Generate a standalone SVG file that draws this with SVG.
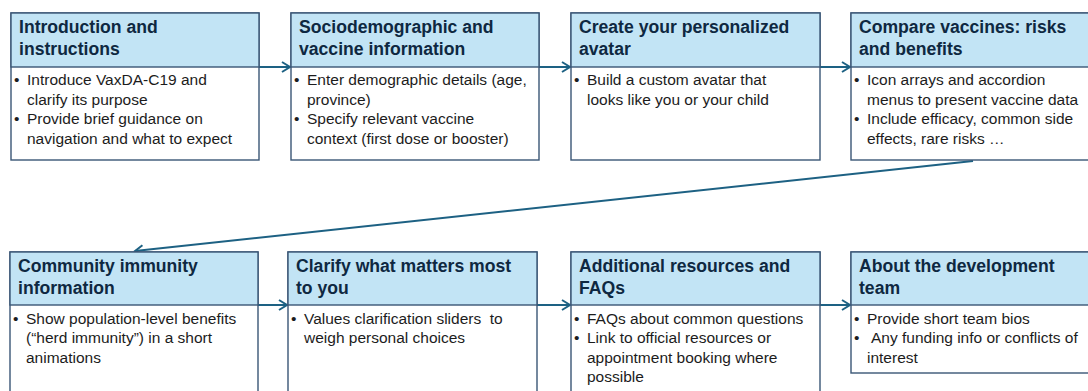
<svg xmlns="http://www.w3.org/2000/svg" width="1088" height="391" viewBox="0 0 1088 391">
  <style>
    .box { fill: #ffffff; stroke: #3a5676; stroke-width: 1.4; }
    .head { fill: #c2e4f5; stroke: #3a5676; stroke-width: 1.4; }
    .title { font-family: "Liberation Sans", Arial, sans-serif; font-weight: bold; font-size: 17.6px; fill: #0e2841; }
    .body { font-family: "Liberation Sans", Arial, sans-serif; font-size: 15.5px; fill: #1c1c1c; white-space: pre; }
    .link { fill: none; stroke: #1d6183; stroke-width: 2; }
  </style>
  <defs>
    <marker id="arrow" markerUnits="userSpaceOnUse" markerWidth="12" markerHeight="14" refX="9" refY="6" orient="auto">
      <path d="M1,1 L9,6 L1,11" fill="none" stroke="#1d6183" stroke-width="2"/>
    </marker>
  </defs>

  <rect width="1088" height="391" fill="#ffffff"/>

  <!-- connectors -->
  <g id="connectors">
    <line class="link" x1="259" y1="67" x2="290" y2="67" marker-end="url(#arrow)"/>
    <line class="link" x1="539" y1="67" x2="570" y2="67" marker-end="url(#arrow)"/>
    <line class="link" x1="820" y1="67" x2="850" y2="67" marker-end="url(#arrow)"/>
    <line class="link" x1="973" y1="161" x2="135" y2="251" marker-end="url(#arrow)"/>
    <line class="link" x1="258" y1="305" x2="287" y2="305" marker-end="url(#arrow)"/>
    <line class="link" x1="537" y1="305" x2="570" y2="305" marker-end="url(#arrow)"/>
    <line class="link" x1="820" y1="305" x2="850" y2="305" marker-end="url(#arrow)"/>
  </g>

  <!-- step 1 -->
  <g id="intro">
    <rect class="box" x="11" y="13" width="248" height="147"/>
    <rect class="head" x="11" y="13" width="248" height="54"/>
    <text class="title" x="19" y="33">Introduction and</text>
    <text class="title" x="19" y="55">instructions</text>
    <text class="body"><tspan x="14" y="85">•</tspan><tspan x="27" y="85">Introduce VaxDA-C19 and</tspan></text>
    <text class="body" x="27" y="104.5">clarify its purpose</text>
    <text class="body"><tspan x="14" y="124">•</tspan><tspan x="27" y="124">Provide brief guidance on</tspan></text>
    <text class="body" x="27" y="143.5">navigation and what to expect</text>
  </g>

  <!-- step 2 -->
  <g id="sociodemographic">
    <rect class="box" x="291" y="13" width="248" height="147"/>
    <rect class="head" x="291" y="13" width="248" height="54"/>
    <text class="title" x="299" y="33">Sociodemographic and</text>
    <text class="title" x="299" y="55">vaccine information</text>
    <text class="body"><tspan x="294" y="85">•</tspan><tspan x="307" y="85">Enter demographic details (age,</tspan></text>
    <text class="body" x="307" y="104.5">province)</text>
    <text class="body"><tspan x="294" y="124">•</tspan><tspan x="307" y="124">Specify relevant vaccine</tspan></text>
    <text class="body" x="307" y="143.5">context (first dose or booster)</text>
  </g>

  <!-- step 3 -->
  <g id="avatar">
    <rect class="box" x="571" y="13" width="249" height="147"/>
    <rect class="head" x="571" y="13" width="249" height="54"/>
    <text class="title" x="579" y="33">Create your personalized</text>
    <text class="title" x="579" y="55">avatar</text>
    <text class="body"><tspan x="574" y="85">•</tspan><tspan x="587" y="85">Build a custom avatar that</tspan></text>
    <text class="body" x="587" y="104.5">looks like you or your child</text>
  </g>

  <!-- step 4 -->
  <g id="compare">
    <rect class="box" x="851" y="13" width="250" height="147"/>
    <rect class="head" x="851" y="13" width="250" height="54"/>
    <text class="title" x="859" y="33">Compare vaccines: risks</text>
    <text class="title" x="859" y="55">and benefits</text>
    <text class="body"><tspan x="854" y="85">•</tspan><tspan x="867" y="85">Icon arrays and accordion</tspan></text>
    <text class="body" x="867" y="104.5">menus to present vaccine data</text>
    <text class="body"><tspan x="854" y="124">•</tspan><tspan x="867" y="124">Include efficacy, common side</tspan></text>
    <text class="body" x="867" y="143.5">effects, rare risks …</text>
  </g>

  <!-- step 5 -->
  <g id="community">
    <rect class="box" x="10" y="252" width="248" height="150"/>
    <rect class="head" x="10" y="252" width="248" height="53"/>
    <text class="title" x="18" y="272">Community immunity</text>
    <text class="title" x="18" y="294">information</text>
    <text class="body"><tspan x="13" y="323.5">•</tspan><tspan x="26" y="323.5">Show population-level benefits</tspan></text>
    <text class="body" x="26" y="343">(“herd immunity”) in a short</text>
    <text class="body" x="26" y="362.5">animations</text>
  </g>

  <!-- step 6 -->
  <g id="values">
    <rect class="box" x="288" y="252" width="249" height="150"/>
    <rect class="head" x="288" y="252" width="249" height="53"/>
    <text class="title" x="296" y="272">Clarify what matters most</text>
    <text class="title" x="296" y="294">to you</text>
    <text class="body"><tspan x="291" y="323.5">•</tspan><tspan x="304" y="323.5">Values clarification sliders  to</tspan></text>
    <text class="body" x="304" y="343">weigh personal choices</text>
  </g>

  <!-- step 7 -->
  <g id="resources">
    <rect class="box" x="571" y="252" width="249" height="150"/>
    <rect class="head" x="571" y="252" width="249" height="53"/>
    <text class="title" x="579" y="272">Additional resources and</text>
    <text class="title" x="579" y="294">FAQs</text>
    <text class="body"><tspan x="574" y="323.5">•</tspan><tspan x="587" y="323.5">FAQs about common questions</tspan></text>
    <text class="body"><tspan x="574" y="343">•</tspan><tspan x="587" y="343">Link to official resources or</tspan></text>
    <text class="body" x="587" y="362.5">appointment booking where</text>
    <text class="body" x="587" y="382">possible</text>
  </g>

  <!-- step 8 -->
  <g id="team">
    <rect class="box" x="851" y="252" width="250" height="121"/>
    <rect class="head" x="851" y="252" width="250" height="53"/>
    <text class="title" x="859" y="272">About the development</text>
    <text class="title" x="859" y="294">team</text>
    <text class="body"><tspan x="854" y="323.5">•</tspan><tspan x="867" y="323.5">Provide short team bios</tspan></text>
    <text class="body"><tspan x="854" y="343">•</tspan><tspan x="871" y="343">Any funding info or conflicts of</tspan></text>
    <text class="body" x="867" y="362.5">interest</text>
  </g>
</svg>
